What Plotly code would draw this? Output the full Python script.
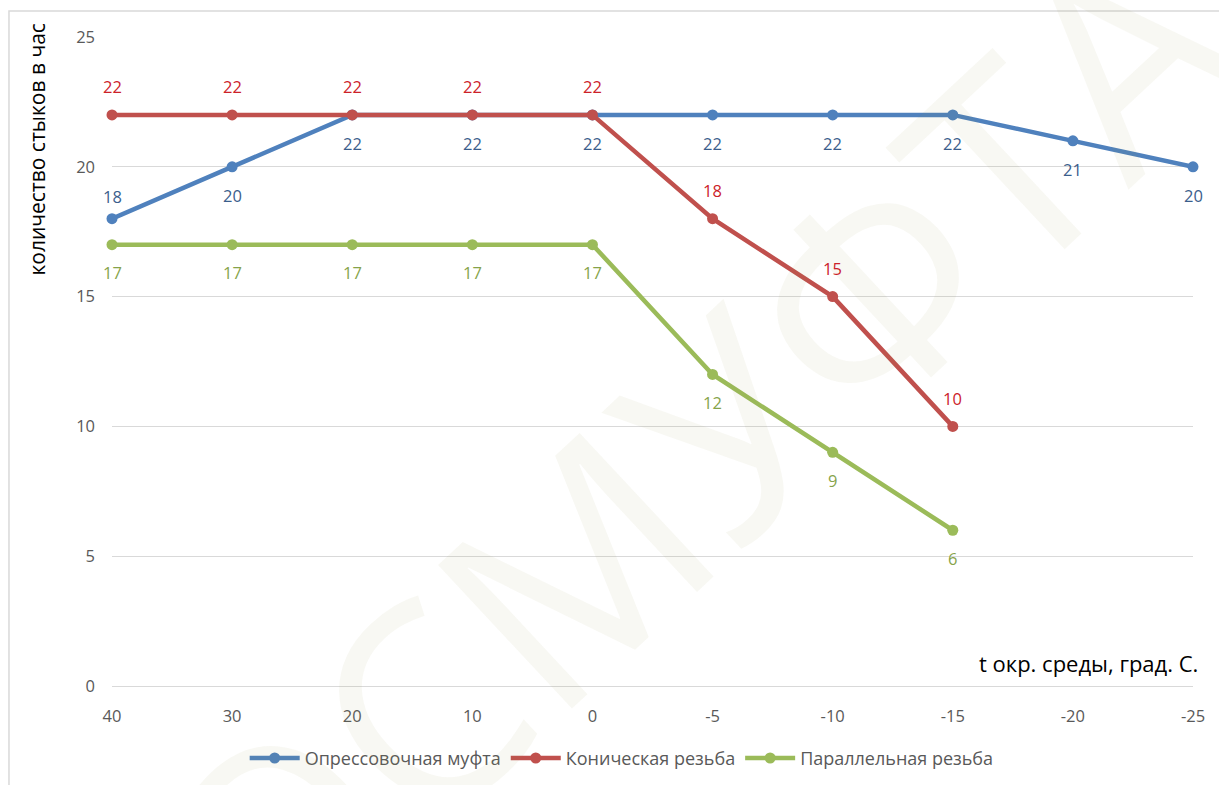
import plotly.graph_objects as go

categories = ["40", "30", "20", "10", "0", "-5", "-10", "-15", "-20", "-25"]
series_names = ["Опрессовочная муфта", "Коническая резьба", "Параллельная резьба"]
muft_values = [18, 20, 22, 22, 22, 22, 22, 22, 21, 20]
conic_values = [22, 22, 22, 22, 22, 18, 15, 10, None, None]
parallel_values = [17, 17, 17, 17, 17, 12, 9, 6, None, None]
y_ticks = [0, 5, 10, 15, 20, 25]
y_title = "количество стыков в час"
x_title = "t окр. среды, град. С."
watermark = "ОСМУФТА"

FONT = "Open Sans"
line_colors = ["#4F81BD", "#C0504D", "#9BBB59"]
label_colors = ["#3B5E8C", "#CC2229", "#86A34A"]
# label placement per series: negative = above, positive = below (pixels)
label_shifts = [
    [-22, 29, 29, 29, 29, 29, 29, 29, 29, 29],
    [-28] * 10,
    [28] * 10,
]

all_values = [muft_values, conic_values, parallel_values]

fig = go.Figure()

for name, vals, col in zip(series_names, all_values, line_colors):
    fig.add_trace(go.Scatter(
        x=categories, y=vals, name=name, mode="lines+markers",
        line=dict(color=col, width=4.5),
        marker=dict(color=col, size=11),
        cliponaxis=False, connectgaps=False,
    ))

annotations = []
# watermark (very faint)
annotations.append(dict(
    text=watermark, xref="paper", yref="paper", x=0.535, y=0.36,
    xanchor="center", yanchor="middle", showarrow=False, textangle=-43,
    font=dict(family=FONT, size=275, color="rgba(150,145,80,0.065)"),
))

for vals, lcol, shifts in zip(all_values, label_colors, label_shifts):
    for i, (v, s) in enumerate(zip(vals, shifts)):
        if v is None:
            continue
        annotations.append(dict(
            x=i, y=v, xref="x", yref="y", text=str(v), showarrow=False,
            yshift=-s, xanchor="center", yanchor="middle",
            font=dict(family=FONT, size=16.5, color=lcol),
        ))

annotations.append(dict(
    text=y_title, xref="paper", yref="paper", x=-0.0694, y=1.026,
    xanchor="center", yanchor="top", textangle=-90, showarrow=False,
    font=dict(family=FONT, size=21, color="#000000"),
))
annotations.append(dict(
    text=x_title, xref="paper", yref="paper", x=1.0065, y=0.0354,
    xanchor="right", yanchor="middle", showarrow=False,
    font=dict(family=FONT, size=22, color="#000000"),
))

fig.update_layout(
    width=1219, height=785,
    margin=dict(l=112, r=26, t=37, b=99),
    paper_bgcolor="#FFFFFF", plot_bgcolor="#FFFFFF",
    font=dict(family=FONT, size=16, color="#595959"),
    showlegend=True,
    legend=dict(orientation="h", xref="container", yref="container",
                x=0.510, y=0.034, xanchor="center", yanchor="middle",
                font=dict(family=FONT, size=18, color="#595959"),
                itemwidth=50, traceorder="normal"),
    annotations=annotations,
    shapes=[dict(type="rect", xref="paper", yref="paper",
                 x0=-0.0953, x1=1.04, y0=-0.2, y1=1.040,
                 line=dict(color="#D9D9D9", width=1.5), layer="below")],
)

fig.update_xaxes(
    type="category", categoryorder="array", categoryarray=categories,
    range=[0, 9], showgrid=False, zeroline=False, showline=False,
    ticks="", ticklabelstandoff=18,
    tickfont=dict(family=FONT, size=16.5, color="#595959"),
)
fig.update_yaxes(
    range=[0, 25], tickvals=y_ticks, showgrid=True, gridcolor="#D9D9D9", gridwidth=1.3,
    zeroline=True, zerolinecolor="#D9D9D9", zerolinewidth=1.3, showline=False,
    ticks="", ticklabelstandoff=16,
    tickfont=dict(family=FONT, size=16.5, color="#595959"),
)

fig.write_html("out.html", config={"displayModeBar": False},
               post_script="document.body.style.margin='0';document.body.style.overflow='hidden';")
